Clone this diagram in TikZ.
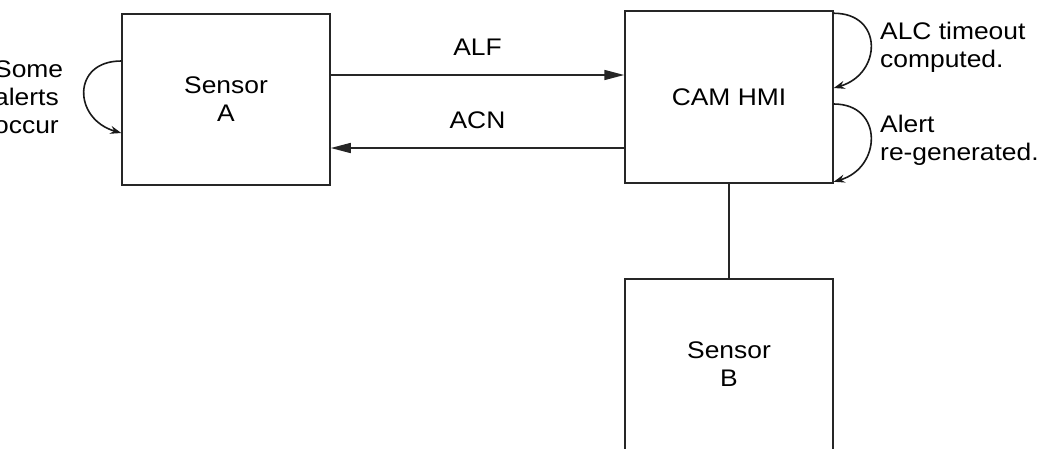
\documentclass[tikz,border=0pt]{standalone}
\usepackage{fontspec}
\setmainfont{Liberation Sans}[FakeStretch=1.1]
\usetikzlibrary{arrows.meta, positioning}

\begin{document}
\begin{tikzpicture}[x=1pt, y=-1pt, font=\fontsize{24}{28}\selectfont,
    unit/.style={draw=black!85, line width=1.5pt, minimum width=208pt,
                 minimum height=171pt, align=center},
    note/.style={align=left, inner sep=0pt},
    msg/.style={-{Triangle[length=20pt, width=10pt]}, line width=1.6pt, draw=black!85},
    selfloop/.style={-{Stealth[length=11pt, width=8pt]}, line width=1.6pt, draw=black!90},
    link/.style={line width=1.5pt, draw=black!85}]

  \useasboundingbox (0,0) rectangle (1042,448);

  \node[unit]                        (sa)  at (226,99.5) {Sensor\\A};
  \node[unit, minimum height=172pt]  (cam) at (729,97)   {CAM HMI};
  \node[unit, minimum height=190pt, anchor=north] (sb) at (729,278)
        {Sensor\\B\rule[-19pt]{0pt}{19pt}};

  \draw[msg] (sa.east |- 0,75) -- node[above=15pt] (alf) {ALF} (cam.west |- 0,75);
  \draw[msg] (cam.west |- 0,148) -- node[above=15pt] (acn) {ACN} (sa.east |- 0,148);
  \draw[link] (cam.south) -- (sb.north);

  % self loops
  \draw[selfloop] ([yshift=38.5pt]sa.west) .. controls +(-50,0) and +(-48,-14) .. ([yshift=-33.5pt]sa.west);
  \draw[selfloop] ([yshift=-3pt]cam.north east) .. controls +(50,0) and +(48,-14) .. ([yshift=9pt]cam.east);
  \draw[selfloop] ([yshift=-7pt]cam.east) .. controls +(50,0) and +(48,-14) .. ([yshift=2pt]cam.south east);

  \node[note, anchor=west] (occur) at (-6,97)  {Some\\alerts\\occur};
  \node[note, anchor=west] (alc)   at (880,47) {ALC timeout\\computed.};
  \node[note, anchor=west] (regen) at (880,140) {Alert\\re-generated.};

\end{tikzpicture}
\end{document}
